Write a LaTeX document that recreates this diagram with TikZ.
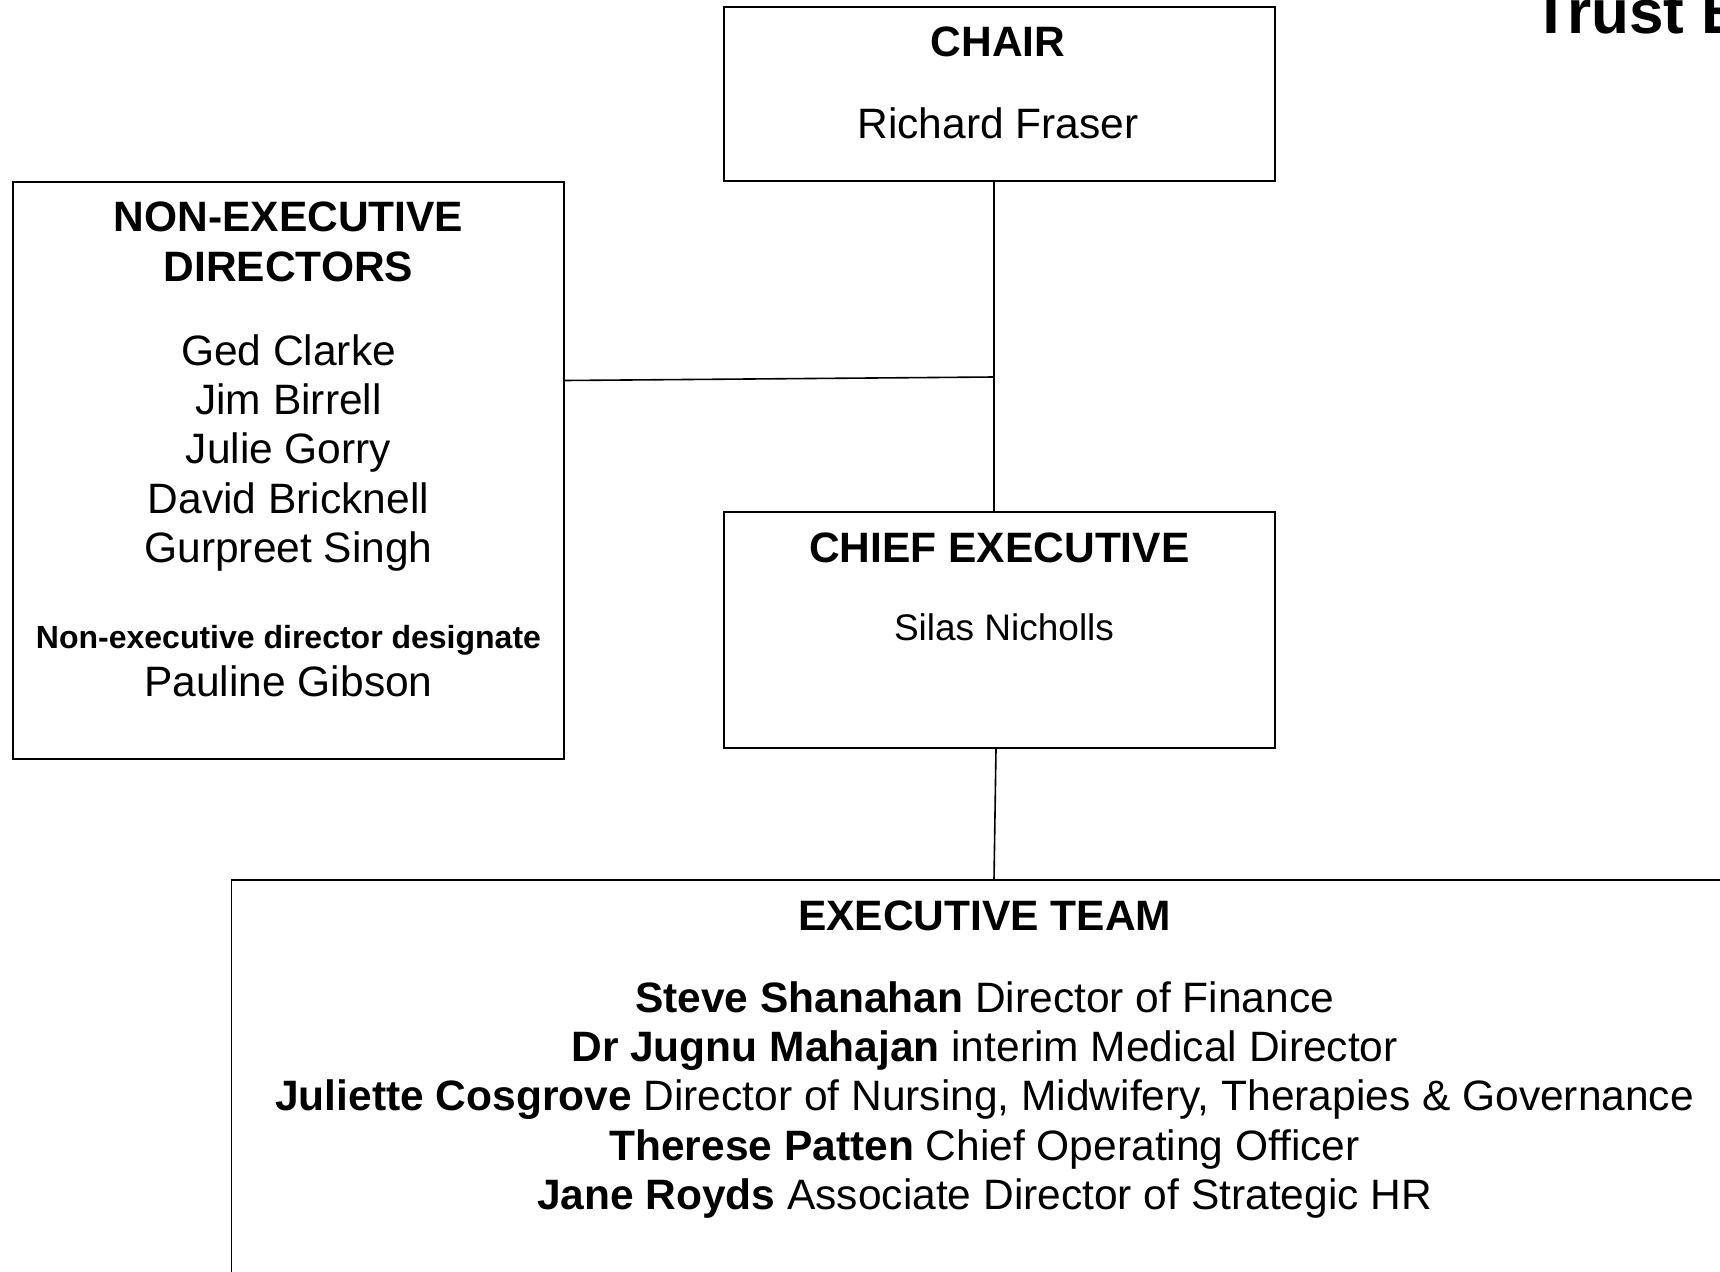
\documentclass[tikz,border=0pt]{standalone}
\usepackage{fontspec}
\setmainfont{Liberation Sans}
\usetikzlibrary{positioning}

\begin{document}
\begin{tikzpicture}[
    x=1pt, y=-1pt,
    line width=1.6pt,
    post/.style={draw, rectangle, minimum width=551pt, inner sep=0pt},
    head/.style={font=\bfseries\fontsize{42.5}{49.4}\selectfont, align=center, inner sep=0pt},
    names/.style={font=\fontsize{42.5}{49.4}\selectfont, align=center, inner sep=0pt}
]
    \useasboundingbox (0,0) rectangle (1720,1271);

    % boxes
    \node[post, minimum height=174pt] (chair) at (999.5,94) {};
    \node[post, minimum height=577pt] (ned) at (288.5,470.5) {};
    \node[post, minimum height=236pt] (ceo) at (999.5,630) {};
    \node[post, minimum width=1506pt, minimum height=520pt] (exec) at (984.6,1140) {};

    % texts
    \node[head, anchor=base] (chair-t) at (998,57) {CHAIR};
    \node[names, anchor=base] (chair-n) at (998,139) {Richard Fraser};

    \node[head, anchor=north] (ned-t) at (288.5,201.5) {NON-EXECUTIVE\\DIRECTORS};
    \node[names, anchor=north] (ned-n) at (288.5,333.5) {Ged Clarke\\Jim Birrell\\Julie Gorry\\David Bricknell\\Gurpreet Singh};
    \node[inner sep=0pt, anchor=base, font=\bfseries\fontsize{32}{38}\selectfont] (ned-d) at (288.5,648.5) {Non-executive director designate};
    \node[names, anchor=base] (ned-p) at (288.5,696) {Pauline Gibson};

    \node[head, anchor=base] (ceo-t) at (999.4,562.4) {CHIEF EXECUTIVE};
    \node[inner sep=0pt, anchor=base, font=\fontsize{37}{43}\selectfont] (ceo-n) at (1004,640.5) {Silas Nicholls};

    \node[head, anchor=base] (exec-t) at (984.6,930) {EXECUTIVE TEAM};
    \node[names, anchor=north] (exec-n) at (984.6,980.5) {\textbf{Steve Shanahan} Director of Finance\\
        \textbf{Dr Jugnu Mahajan} interim Medical Director\\
        \textbf{Juliette Cosgrove} Director of Nursing, Midwifery, Therapies \& Governance\\
        \textbf{Therese Patten} Chief Operating Officer\\
        \textbf{Jane Royds} Associate Director of Strategic HR};

    \node[inner sep=0pt, anchor=base west, font=\bfseries\fontsize{62}{70}\selectfont] (title) at (1532,34) {Trust Board};

    % lines
    \coordinate (split) at (994,377);
    \draw (chair.south -| split) -- (ceo.north -| split);
    \draw ([yshift=-3.5pt]ned.east |- split) -- (split);
    \draw ([xshift=-3.5pt]ceo.south) -- (exec.north -| split);
\end{tikzpicture}
\end{document}
